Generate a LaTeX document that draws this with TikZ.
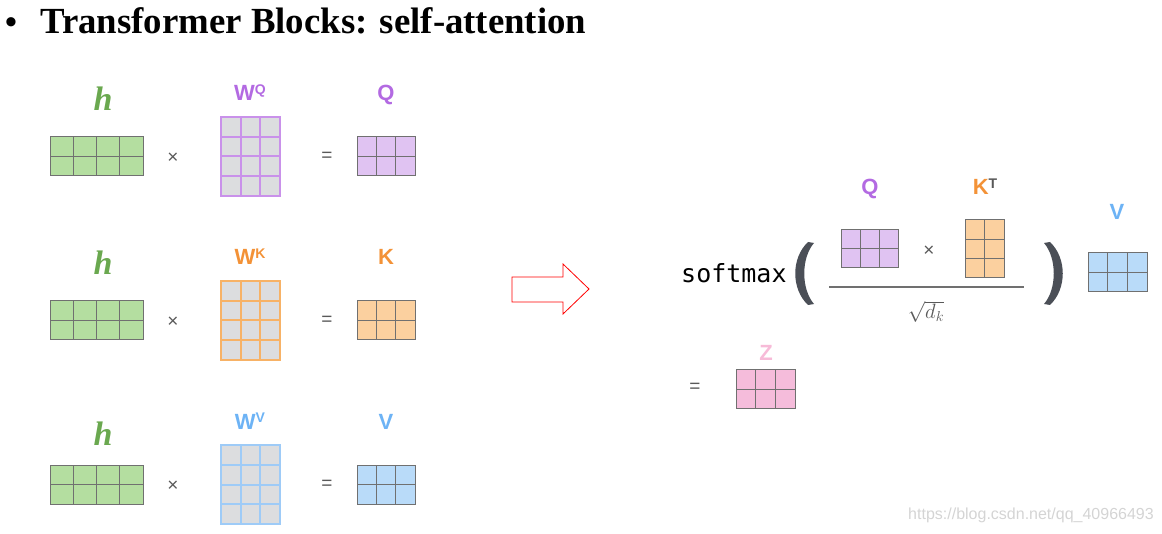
\documentclass[tikz,border=0pt]{standalone}
\usepackage{fontspec}
\setmainfont{Liberation Serif}
\newfontfamily\lsans{Liberation Sans}
\newfontfamily\dmono{DejaVu Sans Mono}
\usetikzlibrary{calc}
\definecolor{hgreen}{RGB}{106,168,79}
\definecolor{gfill}{RGB}{180,222,160}
\definecolor{mline}{RGB}{112,112,112}
\definecolor{cellgray}{RGB}{220,221,223}
\definecolor{qcol}{RGB}{179,106,226}
\definecolor{qbord}{RGB}{201,145,234}
\definecolor{qfill}{RGB}{224,195,242}
\definecolor{kcol}{RGB}{243,146,55}
\definecolor{kbord}{RGB}{247,178,102}
\definecolor{kfill}{RGB}{251,208,159}
\definecolor{vcol}{RGB}{109,179,245}
\definecolor{vbord}{RGB}{158,203,247}
\definecolor{vfill}{RGB}{185,219,249}
\definecolor{zcol}{RGB}{247,187,216}
\definecolor{zfill}{RGB}{245,188,219}
\definecolor{opgray}{RGB}{89,89,89}
\definecolor{parengray}{RGB}{75,79,87}
\definecolor{wmark}{RGB}{212,212,212}
\newcommand\drawmat[7]{%
  \node[inner sep=0pt, outer sep=0pt, minimum width=#5pt, minimum height=#6pt, #7] (#1) at (#2) {};
  \pgfmathtruncatemacro\nca{#3-1}%
  \pgfmathtruncatemacro\nra{#4-1}%
  \foreach \i in {1,...,\nca} \draw[#7, fill=none] ($(#1.north west)!\i/#3!(#1.north east)$) -- ($(#1.south west)!\i/#3!(#1.south east)$);
  \foreach \j in {1,...,\nra} \draw[#7, fill=none] ($(#1.north west)!\j/#4!(#1.south west)$) -- ($(#1.north east)!\j/#4!(#1.south east)$);
}
\tikzset{
  cmat/.style={fill=#1, draw=mline, line width=1pt},
  wmat/.style={fill=cellgray, draw=#1, line width=2pt},
  hlab/.style={anchor=base, inner sep=0pt, text=hgreen, font=\fontsize{34}{34}\selectfont\bfseries\itshape},
  mlab/.style={anchor=base, inner sep=0pt, font=\lsans\bfseries\fontsize{22}{22}\selectfont},
  opsym/.style={inner sep=0pt, text=opgray, font=\lsans\fontsize{19}{19}\selectfont},
}
\newcommand\supl[1]{\raisebox{6pt}{\fontsize{14}{14}\selectfont #1}}
\begin{document}
\begin{tikzpicture}[x=1pt, y=-1pt]
\useasboundingbox (0,0) rectangle (1162,534);
% title
\node[anchor=base, inner sep=0pt, font=\fontsize{34}{34}\selectfont\bfseries] (bul) at (11,34) {•};
\node[anchor=base west, inner sep=0pt, font=\fontsize{36.8}{36.8}\selectfont\bfseries] (title) at (40,34) {Transformer Blocks: self-attention};
% row 1
\node[hlab] (h1) at (103,111) {h};
\drawmat{hm1}{96.5,156.5}{4}{2}{93}{39}{cmat=gfill}
\node[opsym] (x1) at (173,158) {×};
\drawmat{wq}{250.5,156.5}{3}{4}{59}{79}{wmat=qbord}
\node[mlab, text=qcol] (wql) at (250,101) {W\supl{Q}};
\node[opsym] (e1) at (327,157) {=};
\drawmat{qm}{386,156.5}{3}{2}{58}{39}{cmat=qfill}
\node[mlab, text=qcol] (ql) at (386,101) {Q};
% row 2
\node[hlab] (h2) at (103,275) {h};
\drawmat{hm2}{96.5,320.5}{4}{2}{93}{39}{cmat=gfill}
\node[opsym] (x2) at (173,322) {×};
\drawmat{wk}{250.5,320.5}{3}{4}{59}{79}{wmat=kbord}
\node[mlab, text=kcol] (wkl) at (250,265) {W\supl{K}};
\node[opsym] (e2) at (327,321) {=};
\drawmat{km}{386,320.5}{3}{2}{58}{39}{cmat=kfill}
\node[mlab, text=kcol] (kl) at (386,265) {K};
% row 3
\node[hlab] (h3) at (103,446) {h};
\drawmat{hm3}{96.5,484.5}{4}{2}{93}{39}{cmat=gfill}
\node[opsym] (x3) at (173,486) {×};
\drawmat{wv}{250.5,484.5}{3}{4}{59}{79}{wmat=vbord}
\node[mlab, text=vcol] (wvl) at (250,429) {W\supl{V}};
\node[opsym] (e3) at (327,485) {=};
\drawmat{vm}{386,484.5}{3}{2}{58}{39}{cmat=vfill}
\node[mlab, text=vcol] (vl) at (386,429) {V};
% arrow
\draw[red, line width=0.8pt, line join=miter] (512,277) -- (563,277) -- (563,264) -- (589,289) -- (563,314) -- (563,302) -- (512,302) -- cycle;
% softmax
\node[anchor=base west, inner sep=0pt, font=\dmono\fontsize{25}{25}\selectfont] (sm) at (681,283) {softmax};
\fill[parengray] (808,242) -- (814,243) .. controls (801,258) and (801,289) .. (814,304) -- (808,305) .. controls (791,289) and (791,258) .. (808,242) -- cycle;
\fill[parengray] (1050,242) -- (1044,243) .. controls (1057,258) and (1057,289) .. (1044,304) -- (1050,305) .. controls (1067,289) and (1067,258) .. (1050,242) -- cycle;
\drawmat{q2}{869.5,249}{3}{2}{57}{38}{cmat=qfill}
\node[mlab, text=qcol] (q2l) at (870,195) {Q};
\node[opsym] (x4) at (929,251) {×};
\drawmat{kt}{984.5,249}{2}{3}{39}{58}{cmat=kfill}
\node[mlab, text=kcol] (ktl) at (985,195) {K\supl{\textcolor{opgray}{T}}};
\draw[mline, line width=1.5pt] (829,287) -- (1024,287);
\node[inner sep=0pt, text=opgray, font=\fontsize{22}{22}\selectfont] (sq) at (926,312) {$\sqrt{d_k}$};
\drawmat{v2}{1117.5,272.5}{3}{2}{59}{39}{cmat=vfill}
\node[mlab, text=vcol] (v2l) at (1117,220) {V};
\node[opsym] (e4) at (695,388) {=};
\drawmat{zm}{765.5,389.5}{3}{2}{59}{39}{cmat=zfill}
\node[mlab, text=zcol] (zl) at (766,361) {Z};
% watermark
\node[inner sep=0pt, text=wmark, font=\lsans\fontsize{16}{16}\selectfont] (wm) at (1031,515) {https://blog.csdn.net/qq\_40966493};
\end{tikzpicture}
\end{document}
